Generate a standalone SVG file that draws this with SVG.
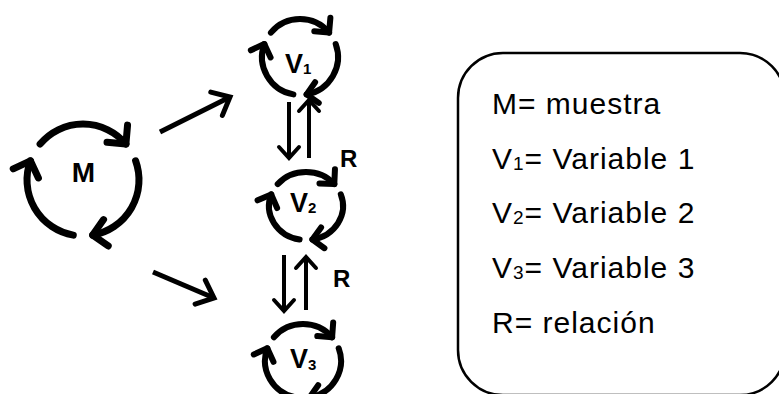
<svg xmlns="http://www.w3.org/2000/svg" width="779" height="394" viewBox="0 0 779 394">
<style>
.cyc{fill:none;stroke:#000;stroke-linecap:round}
.big{stroke-width:7;marker-end:url(#chevBig)}
.sm{stroke-width:6;marker-end:url(#chevSm)}
.con{fill:none;stroke:#000;stroke-width:4;stroke-linecap:butt}
.diag{stroke-width:5}
.lbl{font-family:"Liberation Sans",Arial,sans-serif;font-weight:bold;fill:#000}
.leg{font-family:"Liberation Sans",Arial,sans-serif;font-size:30px;letter-spacing:1px;fill:#000}
</style>
<defs>
<marker id="chevBig" markerUnits="userSpaceOnUse" orient="auto" viewBox="-25 -25 50 50" markerWidth="50" markerHeight="50" refX="0" refY="0">
<path d="M-13.4,-13.4 L0,0 L-13.4,13.4" fill="none" stroke="#000" stroke-width="7" stroke-linecap="round" stroke-linejoin="round"/>
</marker>
<marker id="chevSm" markerUnits="userSpaceOnUse" orient="auto" viewBox="-25 -25 50 50" markerWidth="50" markerHeight="50" refX="0" refY="0">
<path d="M-10.5,-10.5 L0,0 L-10.5,10.5" fill="none" stroke="#000" stroke-width="6" stroke-linecap="round" stroke-linejoin="round"/>
</marker>
<marker id="arrD" markerUnits="userSpaceOnUse" orient="auto" viewBox="-25 -25 50 50" markerWidth="50" markerHeight="50" refX="0" refY="0">
<path d="M-15,-13 L0,0 L-15,13" fill="none" stroke="#000" stroke-width="5" stroke-linecap="round" stroke-linejoin="miter"/>
</marker>
<marker id="arrV" markerUnits="userSpaceOnUse" orient="auto" viewBox="-25 -25 50 50" markerWidth="50" markerHeight="50" refX="0" refY="0">
<path d="M-11,-10 L0,0 L-11,10" fill="none" stroke="#000" stroke-width="4" stroke-linecap="round" stroke-linejoin="miter"/>
</marker>
</defs>

<g id="node-M">
<path class="cyc big" d="M40.1,144 A56,56 0 0 1 125.9,144"/>
<path class="cyc big" d="M135.6,160.8 A56,56 0 0 1 92.7,235.1"/>
<path class="cyc big" d="M73.3,235.1 A56,56 0 0 1 30.4,160.8"/>
<text class="lbl" x="83.5" y="182" font-size="28" text-anchor="middle">M</text>
</g>

<g id="node-V1">
<path class="cyc sm" d="M270.9,32.6 A38,38 0 0 1 329.1,32.6"/>
<path class="cyc sm" d="M335.7,44 A38,38 0 0 1 306.6,94.4"/>
<path class="cyc sm" d="M293.4,94.4 A38,38 0 0 1 264.3,44"/>
<text class="lbl" x="285" y="73" font-size="27">V<tspan font-size="15" dy="1">1</tspan></text>
</g>

<g id="node-V2">
<path class="cyc sm" d="M277.7,184.1 A37,34 0 0 1 334.3,184.1"/>
<path class="cyc sm" d="M340.8,194.4 A37,34 0 0 1 312.4,239.5"/>
<path class="cyc sm" d="M299.6,239.5 A37,34 0 0 1 271.2,194.4"/>
<text class="lbl" x="290" y="212" font-size="27">V<tspan font-size="15" dy="1">2</tspan></text>
</g>

<g id="node-V3">
<path class="cyc sm" d="M273.9,337.2 A38,37 0 0 1 332.1,337.2"/>
<path class="cyc sm" d="M338.7,348.3 A38,37 0 0 1 309.6,397.4"/>
<path class="cyc sm" d="M296.4,397.4 A38,37 0 0 1 267.3,348.3"/>
<text class="lbl" x="290" y="368" font-size="27">V<tspan font-size="15" dy="2">3</tspan></text>
</g>

<g id="connectors">
<path class="con diag" marker-end="url(#arrD)" d="M160,132 L230,97"/>
<path class="con diag" marker-end="url(#arrD)" d="M153,272 L214,298"/>
<path class="con" marker-end="url(#arrV)" d="M289,102 L289,158"/>
<path class="con" marker-end="url(#arrV)" d="M309,158 L309,100"/>
<path class="con" marker-end="url(#arrV)" d="M284,255 L284,311"/>
<path class="con" marker-end="url(#arrV)" d="M306,310 L306,257"/>
<text class="lbl" x="340" y="167" font-size="24">R</text>
<text class="lbl" x="333" y="287" font-size="24">R</text>
</g>

<g id="legend">
<rect x="458" y="53" width="327" height="342" rx="45" ry="45" fill="none" stroke="#000" stroke-width="2.5"/>
<text class="leg" x="492" y="114">M= muestra</text>
<text class="leg" x="492" y="168.5">V<tspan font-size="19" dy="1">1</tspan><tspan dy="-1">= Variable 1</tspan></text>
<text class="leg" x="492" y="223">V<tspan font-size="19" dy="1">2</tspan><tspan dy="-1">= Variable 2</tspan></text>
<text class="leg" x="492" y="278">V<tspan font-size="19" dy="1">3</tspan><tspan dy="-1">= Variable 3</tspan></text>
<text class="leg" x="492" y="333">R= relación</text>
</g>
</svg>
